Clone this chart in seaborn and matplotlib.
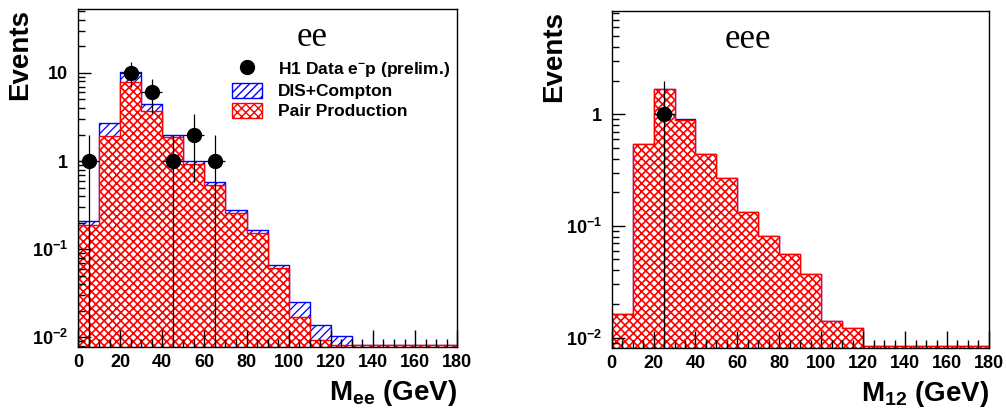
import numpy as np
import pandas as pd
import seaborn as sns
import matplotlib.pyplot as plt
from matplotlib.lines import Line2D
from matplotlib.patches import Patch
from matplotlib.ticker import FixedLocator, FixedFormatter, LogLocator, MultipleLocator, NullFormatter

# binning (GeV)
edges = np.arange(0, 190, 10)
centers = edges[:-1] + 5

# ee channel: total SM (DIS+Compton on top of pair production) and pair production alone
ee_total = [0.21, 2.7, 10.3, 4.4, 2.0, 1.0, 0.58, 0.28, 0.166, 0.067, 0.025, 0.0139, 0.0104,
            0, 0, 0, 0, 0]
ee_pair = [0.19, 1.9, 7.8, 3.7, 1.87, 0.93, 0.53, 0.26, 0.152, 0.061, 0.017, 0.0094, 0,
           0, 0, 0, 0, 0]
ee_data_x = [5, 25, 35, 45, 55, 65]
ee_data_y = [1, 10, 6, 1, 2, 1]

# eee channel
eee_total = [0.0164, 0.546, 1.70, 0.914, 0.438, 0.269, 0.133, 0.081, 0.0565, 0.0367, 0.0141,
             0.0122, 0, 0, 0, 0, 0, 0]
eee_pair = [0.0164, 0.546, 1.70, 0.88, 0.438, 0.269, 0.133, 0.081, 0.0565, 0.0367, 0.0141,
            0.0122, 0, 0, 0, 0, 0, 0]
eee_data_x = [25]
eee_data_y = [1]

sns.set_style('white')
plt.rcParams.update({
    'font.family': ['Liberation Sans', 'DejaVu Sans'],
    'font.weight': 'bold',
    'text.color': 'black',
    'axes.labelcolor': 'black',
    'axes.axisbelow': False,
    'xtick.color': 'black',
    'ytick.color': 'black',
    'xtick.bottom': True,
    'ytick.left': True,
    'xtick.direction': 'in',
    'ytick.direction': 'in',
    'mathtext.fontset': 'custom',
    'mathtext.rm': 'Liberation Sans:bold',
    'mathtext.bf': 'Liberation Sans:bold',
    'mathtext.it': 'Liberation Sans:bold',
    'mathtext.default': 'bf',
})

BLUE_HW = 0.9
RED_HW = 1.2

fig = plt.figure(figsize=(10.06, 4.12), dpi=100)
ax1 = fig.add_axes([0.0775, 0.158, 0.377, 0.820])
ax2 = fig.add_axes([0.608, 0.156, 0.375, 0.817])


def draw_panel(ax, total, pair, dx, dy, ylim, label, label_x, xlab, ticks, ticklabels):
    floor = ylim[0] * 1.04  # zero bins drawn on the frame bottom, like ROOT
    df = pd.DataFrame({'m': centers,
                       'total': np.maximum(total, floor),
                       'pair': np.maximum(pair, floor)})
    with plt.rc_context({'hatch.linewidth': BLUE_HW}):
        sns.histplot(data=df, x='m', weights='total', binwidth=10, binrange=(0, 180),
                     element='step', fill=True, facecolor='white', edgecolor='blue',
                     hatch='////', linewidth=1, alpha=1, ax=ax)
    with plt.rc_context({'hatch.linewidth': RED_HW}):
        sns.histplot(data=df, x='m', weights='pair', binwidth=10, binrange=(0, 180),
                     element='step', fill=True, facecolor='white', edgecolor='red',
                     hatch='xxxx', linewidth=1, alpha=1, ax=ax)
    dy = np.array(dy, dtype=float)
    ax.errorbar(dx, dy, yerr=np.sqrt(dy), xerr=5, fmt='o', color='black', markersize=10,
                elinewidth=0.9, capsize=0, zorder=5)
    ax.set_yscale('log')
    ax.set_xlim(0, 180)
    ax.set_ylim(*ylim)
    ax.yaxis.set_major_locator(FixedLocator(ticks))
    ax.yaxis.set_major_formatter(FixedFormatter(ticklabels))
    ax.yaxis.set_minor_locator(LogLocator(base=10, subs=np.arange(2, 10), numticks=20))
    ax.yaxis.set_minor_formatter(NullFormatter())
    ax.xaxis.set_major_locator(MultipleLocator(20))
    ax.xaxis.set_minor_locator(MultipleLocator(5))
    ax.tick_params(axis='both', which='both', direction='in', bottom=True, left=True,
                   top=False, right=False, labelsize=13, width=1, color='black',
                   labelcolor='black')
    ax.tick_params(axis='y', which='major', length=9, pad=7)
    ax.tick_params(axis='y', which='minor', length=5)
    ax.tick_params(axis='x', which='major', length=12, pad=5)
    ax.tick_params(axis='x', which='minor', length=6)
    for s in ax.spines.values():
        s.set_color('black')
        s.set_linewidth(1)
    ax.set_ylabel('Events', fontsize=20, fontweight='bold', loc='top', color='black')
    ax.yaxis.set_label_coords(-0.118, 1.0)
    ax.set_xlabel(xlab, fontsize=20, fontweight='bold', loc='right', color='black')
    ax.xaxis.set_label_coords(1.0, -0.092)
    ax.text(label_x, 0.915, label, transform=ax.get_xaxis_transform(), ha='center',
            va='center', fontsize=25, fontweight='normal', family='Liberation Serif',
            color='black')


draw_panel(ax1, ee_total, ee_pair, ee_data_x, ee_data_y, (0.0078, 53), 'ee', 111,
           r'M$_{ee}$ (GeV)', [0.01, 0.1, 1, 10], [r'$10^{-2}$', r'$10^{-1}$', '1', '10'])
draw_panel(ax2, eee_total, eee_pair, eee_data_x, eee_data_y, (0.0081, 8.4), 'eee', 65,
           r'M$_{12}$ (GeV)', [0.01, 0.1, 1], [r'$10^{-2}$', r'$10^{-1}$', '1'])

with plt.rc_context({'hatch.linewidth': BLUE_HW}):
    blue_patch = Patch(facecolor='white', edgecolor='blue', hatch='////', linewidth=1)
with plt.rc_context({'hatch.linewidth': RED_HW}):
    red_patch = Patch(facecolor='white', edgecolor='red', hatch='xxxx', linewidth=1)
handles = [
    Line2D([], [], marker='o', color='black', linestyle='none', markersize=10),
    blue_patch,
    red_patch,
]
labels = [r'H1 Data e$^{-}$p (prelim.)', 'DIS+Compton', 'Pair Production']
ax1.legend(handles, labels, loc='upper left', bbox_to_anchor=(0.405, 0.85), frameon=False,
           borderaxespad=0, borderpad=0, handlelength=1.75, handleheight=0.95,
           handletextpad=0.9, labelspacing=0.22, prop={'size': 12.5, 'weight': 'bold'},
           labelcolor='black')

plt.savefig('out.png', dpi=100)
